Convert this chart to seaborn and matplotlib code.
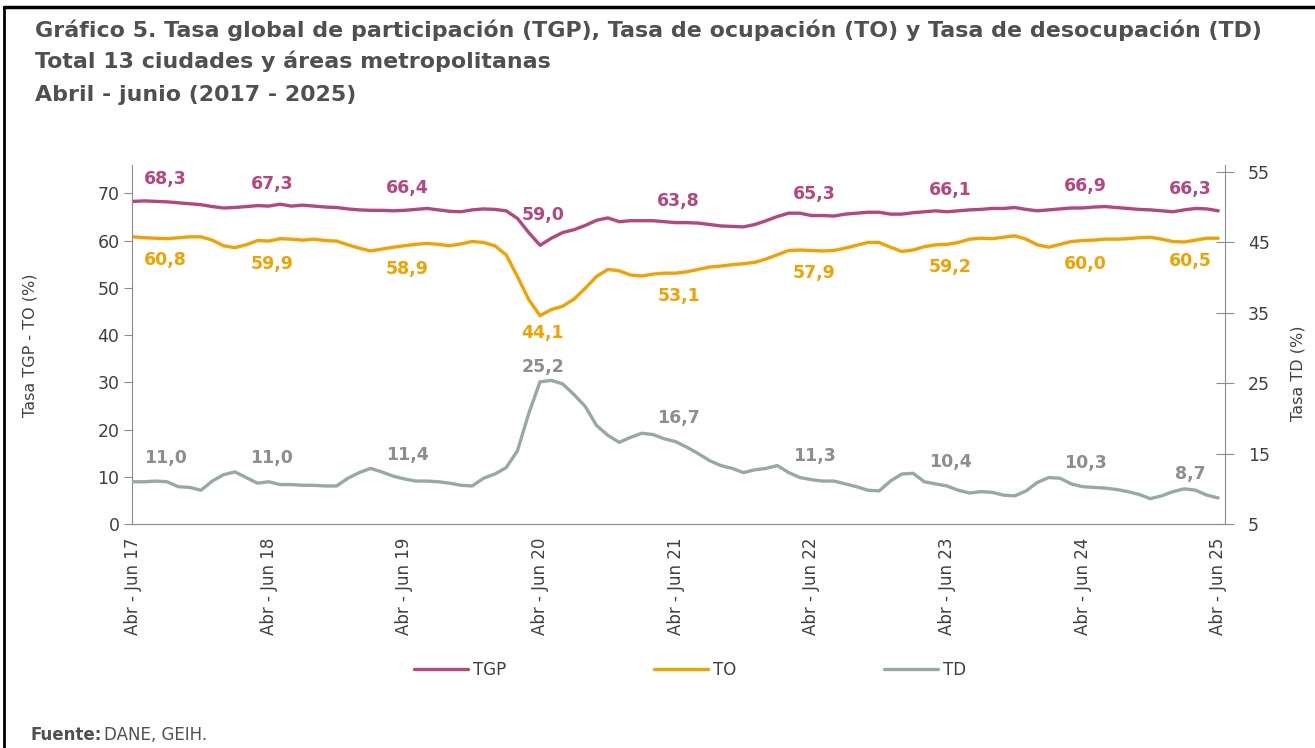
import pandas as pd
import numpy as np
import matplotlib.pyplot as plt
import seaborn as sns

sns.set_style("white")
plt.rcParams['font.family'] = ['DejaVu Sans']

# Abr-Jun 2017 ... Abr-Jun 2025, trimestre movil (mensual)
tgp = [68.3, 68.4, 68.3, 68.2, 68.0, 67.8, 67.6, 67.2, 66.9, 67.0, 67.2, 67.4,
       67.3, 67.7, 67.3, 67.5, 67.3, 67.1, 67.0, 66.7, 66.5, 66.4, 66.4, 66.3,
       66.4, 66.6, 66.8, 66.5, 66.2, 66.1, 66.5, 66.7, 66.6, 66.3, 64.7, 61.7,
       59.0, 60.5, 61.7, 62.3, 63.2, 64.3, 64.8, 64.0, 64.2, 64.2, 64.2, 64.0,
       63.8, 63.8, 63.7, 63.4, 63.1, 63.0, 62.9, 63.4, 64.2, 65.1, 65.8, 65.8,
       65.3, 65.3, 65.2, 65.6, 65.8, 66.0, 66.0, 65.6, 65.6, 65.9, 66.1, 66.3,
       66.1, 66.3, 66.5, 66.6, 66.8, 66.8, 67.0, 66.6, 66.3, 66.5, 66.7, 66.9,
       66.9, 67.1, 67.2, 67.0, 66.8, 66.6, 66.5, 66.3, 66.1, 66.5, 66.8, 66.7,
       66.3]

to = [60.8, 60.6, 60.5, 60.4, 60.6, 60.8, 60.8, 60.1, 58.9, 58.5, 59.1, 60.0,
      59.9, 60.4, 60.3, 60.1, 60.3, 60.0, 59.9, 59.1, 58.4, 57.8, 58.2, 58.6,
      58.9, 59.2, 59.4, 59.2, 58.9, 59.3, 59.8, 59.6, 58.9, 57.0, 52.4, 47.5,
      44.1, 45.4, 46.1, 47.6, 49.9, 52.4, 53.9, 53.6, 52.7, 52.5, 52.9, 53.1,
      53.1, 53.4, 53.9, 54.4, 54.6, 54.9, 55.1, 55.4, 56.1, 57.0, 57.9, 58.0,
      57.9, 57.8, 57.9, 58.4, 59.0, 59.6, 59.6, 58.6, 57.7, 58.0, 58.7, 59.1,
      59.2, 59.6, 60.3, 60.5, 60.4, 60.7, 61.0, 60.3, 59.1, 58.6, 59.2, 59.8,
      60.0, 60.1, 60.3, 60.3, 60.4, 60.6, 60.7, 60.3, 59.8, 59.7, 60.1, 60.5,
      60.5]

td = [11.0, 11.0, 11.1, 11.0, 10.3, 10.2, 9.8, 11.1, 12.0, 12.4, 11.6, 10.8,
      11.0, 10.6, 10.6, 10.5, 10.5, 10.4, 10.4, 11.5, 12.3, 12.9, 12.4, 11.8,
      11.4, 11.1, 11.1, 11.0, 10.8, 10.5, 10.4, 11.5, 12.1, 13.0, 15.4, 20.7,
      25.2, 25.4, 24.9, 23.4, 21.7, 19.0, 17.6, 16.6, 17.3, 17.9, 17.7, 17.1,
      16.7, 15.9, 15.0, 14.0, 13.3, 12.9, 12.3, 12.7, 12.9, 13.3, 12.3, 11.6,
      11.3, 11.1, 11.1, 10.7, 10.3, 9.8, 9.7, 11.1, 12.1, 12.2, 11.0, 10.7,
      10.4, 9.8, 9.4, 9.6, 9.5, 9.1, 9.0, 9.7, 10.9, 11.6, 11.5, 10.7,
      10.3, 10.2, 10.1, 9.9, 9.6, 9.2, 8.6, 9.0, 9.6, 10.0, 9.8, 9.1,
      8.7]

anios = ["17", "18", "19", "20", "21", "22", "23", "24", "25"]
tick_labels = ["Abr - Jun " + a for a in anios]

df = pd.DataFrame({"mes": np.arange(len(tgp)), "TGP": tgp, "TO": to, "TD": td})
etiq = df[df["mes"] % 12 == 0]

c_tgp = "#B5467F"
c_to = "#F2A200"
c_td = "#96A9A6"
c_txt = "#404040"
c_axis = "#8C8C8C"

fig = plt.figure(figsize=(13.15, 7.48), dpi=100)
ax = fig.add_axes([132 / 1315, 1 - 524 / 748, (1225 - 132) / 1315, (524 - 165) / 748])
ax2 = ax.twinx()

sns.lineplot(data=df, x="mes", y="TGP", ax=ax, color=c_tgp, lw=2.4, label="TGP", legend=False)
sns.lineplot(data=df, x="mes", y="TO", ax=ax, color=c_to, lw=2.4, label="TO", legend=False)
sns.lineplot(data=df, x="mes", y="TD", ax=ax2, color=c_td, lw=2.4, label="TD", legend=False)

ax.set_xlim(-0.1, 96.6)
ax.set_ylim(0, 76)
ax2.set_ylim(5, 56)
ax.set_yticks(range(0, 71, 10))
ax2.set_yticks(range(5, 56, 10))
ax.set_xticks(etiq["mes"])
ax.set_xticklabels(tick_labels, rotation=90)
ax.set_xlabel("")
ax.set_ylabel("")
ax2.set_ylabel("")

for s in ["top", "right"]:
    ax.spines[s].set_visible(False)
for s in ["top", "left", "bottom"]:
    ax2.spines[s].set_visible(False)
for s in ["left", "bottom"]:
    ax.spines[s].set_color(c_axis)
ax2.spines["right"].set_color(c_axis)

ax.tick_params(axis="y", direction="out", length=6, color=c_axis, labelsize=12.5, labelcolor=c_txt, pad=3)
ax.tick_params(axis="x", direction="out", length=6.5, color=c_axis, labelsize=12, labelcolor=c_txt, pad=3)
ax2.tick_params(axis="y", direction="inout", length=13, color=c_axis, labelsize=12.5, labelcolor=c_txt, pad=10)

n = len(df) - 1


def dx(i):
    if i == 0:
        return 32
    if i == n:
        return -28
    return 3


for _, r in etiq.iterrows():
    i = int(r["mes"])
    up = 30 if i == 36 else 22
    ax.annotate(f"{r['TGP']:.1f}".replace(".", ","), (i, r["TGP"]), xytext=(dx(i), up),
                textcoords="offset pixels", ha="center", va="center",
                fontsize=12.5, fontweight="bold", color=c_tgp)
    dn = 17 if i == 36 else 23
    ax.annotate(f"{r['TO']:.1f}".replace(".", ","), (i, r["TO"]), xytext=(dx(i), -dn),
                textcoords="offset pixels", ha="center", va="center",
                fontsize=12.5, fontweight="bold", color=c_to)
    up2 = 15 if i == 36 else 24
    ax2.annotate(f"{r['TD']:.1f}".replace(".", ","), (i, r["TD"]), xytext=(dx(i), up2),
                 textcoords="offset pixels", ha="center", va="center",
                 fontsize=12.5, fontweight="bold", color="#8E8E8E")

fig.text(30 / 1315, 1 - 345 / 748, "Tasa TGP - TO (%)", rotation=90, ha="center", va="center",
         fontsize=11.5, color=c_txt)
fig.text(1298 / 1315, 1 - 373 / 748, "Tasa TD (%)", rotation=90, ha="center", va="center",
         fontsize=11.5, color=c_txt)

titulos = ["Gráfico 5. Tasa global de participación (TGP), Tasa de ocupación (TO) y Tasa de desocupación (TD)",
           "Total 13 ciudades y áreas metropolitanas",
           "Abril - junio (2017 - 2025)"]
for t, y in zip(titulos, [30, 61, 95]):
    fig.text(35 / 1315, 1 - y / 748, t, ha="left", va="center", fontsize=15.9, fontweight="bold", color="#505050")

h1, l1 = ax.get_legend_handles_labels()
h2, l2 = ax2.get_legend_handles_labels()
fig.legend(h1 + h2, l1 + l2, loc="center", bbox_to_anchor=(690 / 1315, 1 - 670 / 748), ncol=3,
           frameon=False, fontsize=12, handlelength=3.2, handletextpad=0.3, columnspacing=8.9,
           labelcolor=c_txt)

fig.text(30 / 1315, 1 - 735 / 748, "Fuente:", ha="left", va="center", fontsize=12, fontweight="bold", color="#505050")
fig.text(104 / 1315, 1 - 735 / 748, "DANE, GEIH.", ha="left", va="center", fontsize=12, color="#505050")

# marco
fig.add_artist(plt.Line2D([4 / 1315, 4 / 1315], [0, 1 - 7 / 748], transform=fig.transFigure, color="black", lw=2))
fig.add_artist(plt.Line2D([4 / 1315, 1], [1 - 7 / 748, 1 - 7 / 748], transform=fig.transFigure, color="black", lw=2.5))

fig.savefig("out.png", dpi=100)
